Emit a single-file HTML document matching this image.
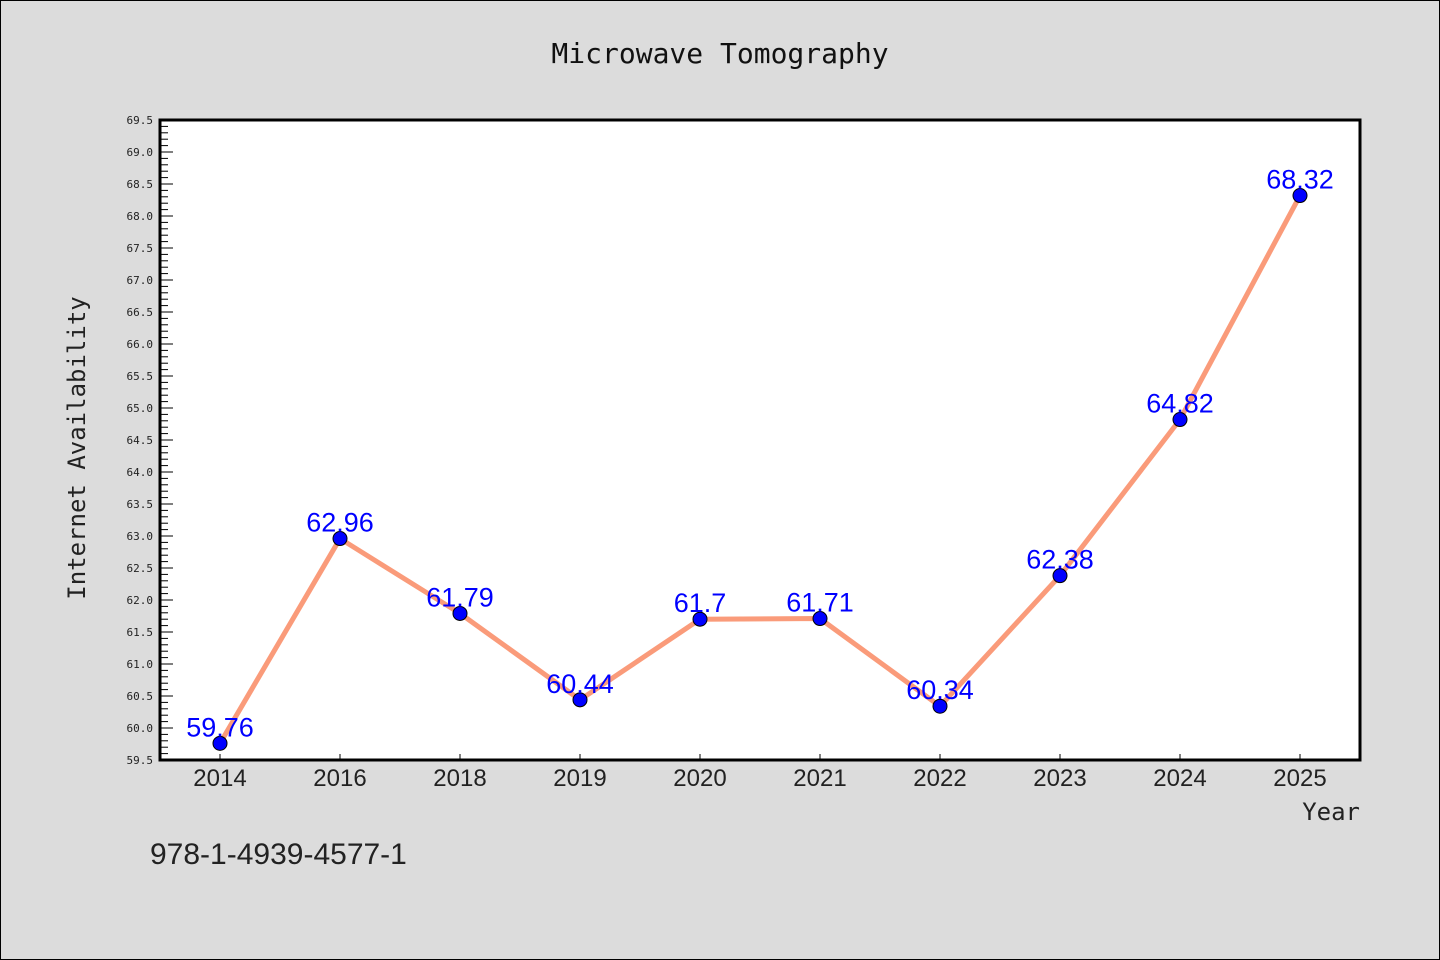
<!DOCTYPE html>
<html><head><meta charset="utf-8"><style>
body{margin:0;background:#dcdcdc;}
svg{display:block;font-family:"DejaVu Sans Mono","Liberation Mono",monospace;}
</style></head><body>
<svg id="chart" width="1440" height="960">
<rect x="0.5" y="0.5" width="1439" height="959" fill="#dcdcdc" stroke="#000"/>
<text x="720" y="63" text-anchor="middle" font-size="28" fill="#111">Microwave Tomography</text>
<rect x="160" y="120" width="1200" height="640" fill="#fff"/>
<g id="yticks"></g><g id="xticks"></g><g id="series"></g>
<rect x="160" y="120" width="1200" height="640" fill="none" stroke="#000" stroke-width="3"/>
<text x="85" y="448" transform="rotate(-90 85 448)" text-anchor="middle" font-size="24" fill="#222">Internet Availability</text>
<text x="1360" y="820" text-anchor="end" font-size="24" fill="#222">Year</text>
<text x="150" y="864" font-size="30" fill="#222" font-family="Liberation Sans, sans-serif">978-1-4939-4577-1</text>
</svg>
<script>
const categories=["2014","2016","2018","2019","2020","2021","2022","2023","2024","2025"];
const values=[59.76,62.96,61.79,60.44,61.7,61.71,60.34,62.38,64.82,68.32];
const valueLabels=["59.76","62.96","61.79","60.44","61.7","61.71","60.34","62.38","64.82","68.32"];
const yMin=59.5,yMax=69.5;
const NS="http://www.w3.org/2000/svg";
const L=160,R=1360,T=120,B=760;
function y(v){return B-(v-yMin)/(yMax-yMin)*(B-T);}
function x(i){return L+(R-L)/categories.length*(i+0.5);}
function mk(tag,attrs,parent){const e=document.createElementNS(NS,tag);for(const k in attrs)e.setAttribute(k,attrs[k]);parent.appendChild(e);return e;}
const yt=document.getElementById('yticks');
for(let k=0;k<=100;k++){
  const v=yMin+k*0.1, yy=y(v), major=k%5===0;
  const t=mk('line',{x1:L,x2:L+(major?13:8),y1:yy,y2:yy,stroke:'#000','stroke-width':1},yt);
  
  
  if(major){
    const tx=mk('text',{x:L-7,y:yy+4,'text-anchor':'end','font-size':11,fill:'#222'},yt);
    tx.textContent=v.toFixed(1);
    
    
  }
}
const xt=document.getElementById('xticks');
categories.forEach((c,i)=>{
  const t=mk('line',{x1:x(i),x2:x(i),y1:B,y2:B-6,stroke:'#000','stroke-width':1},xt);
  
  
  const tx=mk('text',{x:x(i),y:B+26,'text-anchor':'middle','font-size':24,fill:'#222','font-family':'Liberation Sans, sans-serif'},xt);
  tx.textContent=c;
  
  
});
const s=document.getElementById('series');
const pl=mk('polyline',{points:values.map((v,i)=>x(i)+','+y(v)).join(' '),fill:'none',stroke:'#fa9b7a','stroke-width':5,'stroke-linejoin':'round'},s);


values.forEach((v,i)=>{
  const c=mk('circle',{cx:x(i),cy:y(v),r:7,fill:'#0000ff',stroke:'#000','stroke-width':1},s);
  
  
  const t=mk('text',{x:x(i),y:y(v)-7,'text-anchor':'middle','font-size':27,fill:'#0000ff','font-family':'Liberation Sans, sans-serif'},s);
  t.textContent=valueLabels[i];
  
  
});
</script>
</body></html>
